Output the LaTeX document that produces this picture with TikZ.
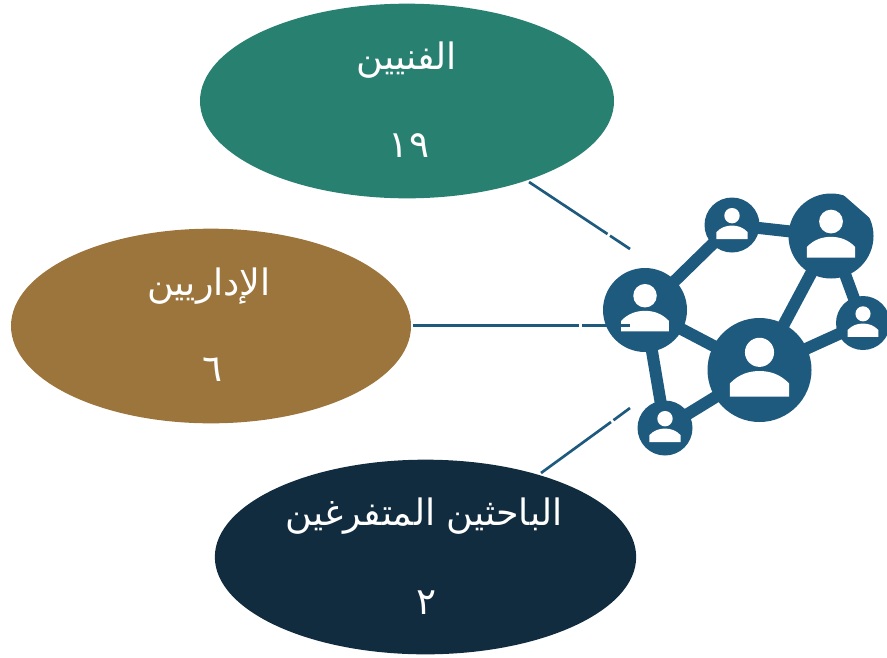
\documentclass[tikz,border=0pt]{standalone}
\usepackage{fontspec}
\usetikzlibrary{shapes.geometric}
\TeXXeTstate=1
\newfontfamily\arabicfont[Script=Arabic]{DejaVu Sans}
\definecolor{hub}{HTML}{1E5A7E}
\definecolor{tealc}{HTML}{288070}
\definecolor{brownc}{HTML}{9C753C}
\definecolor{navyc}{HTML}{112C3F}
\tikzset{
  x=0.75pt,y=-0.75pt,
  blob/.style={ellipse,inner sep=0pt,outer sep=0pt},
  lbl/.style={text=white,font=\arabicfont\fontsize{27.3}{27.3}\selectfont,inner sep=0pt},
  num/.style={text=white,font=\arabicfont\fontsize{28}{28}\selectfont,inner sep=0pt},
  link/.style={draw=hub,line width=9pt},
  conn/.style={draw=hub,line width=2pt},
  person/.style={circle,fill=hub,inner sep=0pt,outer sep=0pt}
}
\newcommand{\peep}[4]{% name, x, y, r
  \node[person,minimum size=#4*1.5pt] (#1) at (#2,#3) {};
  \fill[white] (#2,#3)++(0,-0.34*#4) circle[radius=0.28*#4*0.75pt];
  \fill[white] (#2-0.57*#4,#3+0.51*#4) -- (#2-0.57*#4,#3+0.26*#4)
     .. controls (#2-0.40*#4,#3+0.08*#4) and (#2-0.2*#4,#3+0.02*#4) .. (#2,#3+0.02*#4)
     .. controls (#2+0.2*#4,#3+0.02*#4) and (#2+0.40*#4,#3+0.08*#4) .. (#2+0.57*#4,#3+0.26*#4)
     -- (#2+0.57*#4,#3+0.51*#4) -- cycle;
}
\begin{document}
\begin{tikzpicture}
\useasboundingbox (0,0) rectangle (887,657);
% ellipses
\node[blob,fill=tealc,minimum width=310.5pt,minimum height=146pt] (tech) at (407,101) {};
\node[blob,fill=brownc,minimum width=300pt,minimum height=146pt] (admin) at (211,326) {};
\node[blob,fill=navyc,minimum width=316pt,minimum height=146pt] (grad) at (425.5,557) {};
\node[lbl] (t1) at (406.5,60) {\beginR الفنيين\endR};
\node[num] (t2) at (409,146) {\beginR ١٩\endR};
\node[lbl] (a1) at (209,286) {\beginR الإداريين\endR};
\node[num] (a2) at (212.5,370) {\beginR ٦\endR};
\node[lbl] (g1) at (424,516) {\beginR الباحثين المتفرغين\endR};
\node[num] (g2) at (427,603) {\beginR ٢\endR};
% network links
\coordinate (ca) at (645,310);
\coordinate (cb) at (732,225);
\coordinate (cc) at (831,236);
\coordinate (cd) at (863,323);
\coordinate (ce) at (759.5,370);
\coordinate (cf) at (665,428);
\draw[link] (ca)--(cb);
\draw[link] (cb)--(cc);
\draw[link] (cc)--(ce);
\draw[link] (cc)--(cd);
\draw[link] (cd)--(ce);
\draw[link] (ca)--(ce);
\draw[link] (ca)--(cf);
\draw[link] (cf)--(ce);
\peep{na}{645}{310}{42}
\peep{nb}{732}{225}{27.5}
\peep{nc}{831}{236}{42.5}
\peep{nd}{863}{323}{27}
\peep{ne}{759.5}{370}{52}
\peep{nf}{665}{428}{27.5}
% chamfered edge of the upper right circle
\fill[white] (842,193.6) -- (871.5,219.4) -- (885,205) -- (855,182) -- cycle;
% connectors
\coordinate (e1) at (630,249);
\coordinate (g1a) at (607.5,234);
\coordinate (g1b) at (610,235.7);
\coordinate (s1) at (529,182);
\draw[conn] (s1)--(g1a);
\draw[conn] (g1b)--(e1);
\coordinate (s2) at (413,325.3);
\coordinate (g2a) at (579,325.3);
\coordinate (g2b) at (582,325.3);
\coordinate (e2) at (630,325.3);
\draw[conn] (s2)--(g2a);
\draw[conn] (g2b)--(e2);
\coordinate (s3) at (541,473);
\coordinate (g3a) at (611,422);
\coordinate (g3b) at (613.5,420.2);
\coordinate (e3) at (630,408);
\draw[conn] (s3)--(g3a);
\draw[conn] (g3b)--(e3);
\end{tikzpicture}
\end{document}
